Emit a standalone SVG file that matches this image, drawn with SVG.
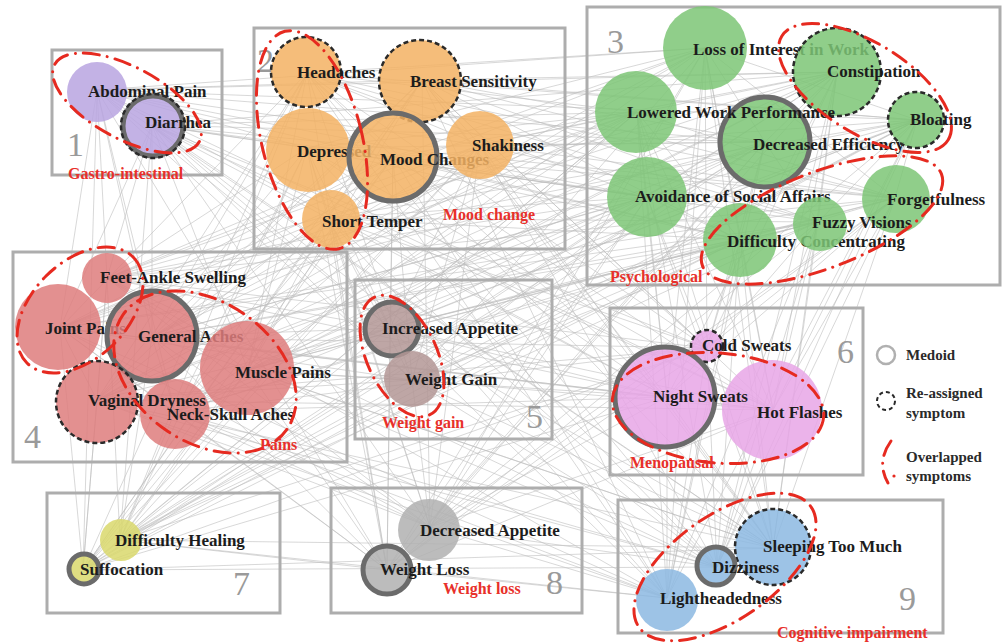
<svg xmlns="http://www.w3.org/2000/svg" width="1005" height="643" viewBox="0 0 1005 643">
<style>
.edge{fill:none;stroke:#bdbdbd;stroke-width:0.8;stroke-opacity:0.75;stroke-linejoin:round}
.box{fill:none;stroke:#adadad;stroke-width:3}
.num{font-family:"Liberation Serif",serif;font-size:34px;fill:#9a9a9a}
.lbl{font-family:"Liberation Serif",serif;font-weight:bold;font-size:17px;fill:#1c1c1c}
.grp{font-family:"Liberation Serif",serif;font-weight:bold;font-size:16px;fill:#e8302a}
.leg{font-family:"Liberation Serif",serif;font-weight:bold;font-size:15px;fill:#2a2a2a}
.nd{fill-opacity:0.85}
.c1{fill:#b9a4e0}.c2{fill:#f3b263}.c3{fill:#7cc576}.c4{fill:#de7c7c}.c5{fill:#b39695}
.c6{fill:#e8a6e6}.c7{fill:#d9d86c}.c8{fill:#b0b0b0}.c9{fill:#8cb8e2}
.med{fill:none;stroke:#6b6b6b;stroke-width:5}
.re{fill:none;stroke:#2a2a2a;stroke-width:2.5;stroke-dasharray:5 3}
.ov{fill:none;stroke:#e62a20;stroke-width:3;stroke-dasharray:16 8 0.1 8;stroke-linecap:round}
</style>
<rect width="1005" height="643" fill="#ffffff"/>
<g id="connectors">
<polygon class="edge" points="97,90 422,80 480,145 837,72 765,142 818,222 60,328 97,400 412,380 773,410 430,527 717,567 152,125 307,148 328,218 637,112 647,197 740,240 152,337 175,412 707,348 120,540 387,570 667,598 307,73 393,157 705,48 917,120 895,198 107,278 248,370 390,328 667,397 83,570 773,548"/>
<polygon class="edge" points="97,90 307,148 705,48 765,142 740,240 248,370 412,380 120,540 773,548 152,125 393,157 837,72 647,197 107,278 97,400 707,348 83,570 717,567 307,73 480,145 637,112 895,198 60,328 175,412 667,397 430,527 667,598 422,80 328,218 917,120 818,222 152,337 390,328 773,410 387,570"/>
<polygon class="edge" points="97,90 480,145 765,142 60,328 412,380 430,527 152,125 328,218 647,197 152,337 707,348 387,570 307,73 705,48 895,198 248,370 667,397 773,548 422,80 837,72 818,222 97,400 773,410 717,567 307,148 637,112 740,240 175,412 120,540 667,598 393,157 917,120 107,278 390,328 83,570"/>
<polygon class="edge" points="97,90 705,48 740,240 412,380 773,548 393,157 647,197 97,400 83,570 307,73 637,112 60,328 667,397 667,598 328,218 818,222 390,328 387,570 307,148 765,142 248,370 120,540 152,125 837,72 107,278 707,348 717,567 480,145 895,198 175,412 430,527 422,80 917,120 152,337 773,410"/>
<polygon class="edge" points="97,90 917,120 175,412 717,567 837,72 248,370 387,570 328,218 60,328 83,570 393,157 740,240 773,410 422,80 895,198 707,348 152,125 765,142 390,328 667,598 637,112 97,400 773,548 705,48 152,337 430,527 480,145 107,278 120,540 307,148 818,222 667,397 307,73 647,197 412,380"/>
<polygon class="edge" points="97,90 647,197 667,397 307,148 107,278 430,527 705,48 97,400 667,598 765,142 707,348 422,80 740,240 83,570 328,218 248,370 717,567 917,120 412,380 307,73 818,222 120,540 480,145 152,337 773,548 637,112 390,328 152,125 895,198 773,410 393,157 60,328 387,570 837,72 175,412"/>
<polygon class="edge" points="97,90 740,240 773,548 647,197 83,570 637,112 667,397 328,218 390,328 307,148 248,370 152,125 107,278 717,567 895,198 430,527 917,120 773,410 705,48 412,380 393,157 97,400 307,73 60,328 667,598 818,222 387,570 765,142 120,540 837,72 707,348 480,145 175,412 422,80 152,337"/>
<polygon class="edge" points="97,90 107,278 667,598 740,240 717,567 818,222 773,548 895,198 387,570 647,197 430,527 765,142 83,570 917,120 120,540 637,112 773,410 837,72 667,397 705,48 707,348 328,218 412,380 480,145 390,328 393,157 175,412 307,148 97,400 422,80 248,370 307,73 152,337 152,125 60,328"/>
<polygon class="edge" points="97,90 837,72 60,328 773,410 152,125 637,112 152,337 120,540 307,73 917,120 248,370 83,570 422,80 765,142 97,400 430,527 307,148 647,197 175,412 387,570 393,157 895,198 390,328 773,548 480,145 818,222 412,380 717,567 328,218 740,240 707,348 667,598 705,48 107,278 667,397"/>
<polygon class="edge" points="97,90 765,142 412,380 152,125 647,197 707,348 307,73 895,198 667,397 422,80 818,222 773,410 307,148 740,240 120,540 393,157 107,278 83,570 480,145 60,328 430,527 328,218 152,337 387,570 705,48 248,370 773,548 837,72 97,400 717,567 637,112 175,412 667,598 917,120 390,328"/>
</g>
<g id="clusters">
<rect class="box" x="52" y="50" width="170" height="125"/>
<rect class="box" x="254" y="28" width="311" height="221"/>
<rect class="box" x="587" y="7" width="413" height="278"/>
<rect class="box" x="13" y="252" width="334" height="210"/>
<rect class="box" x="355" y="280" width="197" height="159"/>
<rect class="box" x="610" y="308" width="253" height="167"/>
<rect class="box" x="47" y="493" width="233" height="120"/>
<rect class="box" x="331" y="488" width="251" height="125"/>
<rect class="box" x="618" y="500" width="325" height="133"/>
<text class="num" x="67" y="156">1</text>
<text class="num" x="257" y="72">2</text>
<text class="num" x="607" y="53">3</text>
<text class="num" x="24" y="448">4</text>
<text class="num" x="526" y="428">5</text>
<text class="num" x="837" y="363">6</text>
<text class="num" x="233" y="595">7</text>
<text class="num" x="546" y="594">8</text>
<text class="num" x="899" y="610">9</text>
</g>
<g id="n-abdominal-pain"><circle class="nd c1" cx="97" cy="92" r="30"/><text class="lbl" x="88" y="97">Abdominal Pain</text></g>
<g id="n-diarrhea"><circle class="nd c1" cx="153" cy="126" r="30"/><circle class="med" cx="153" cy="126" r="30"/><circle class="re" cx="153" cy="126" r="32"/><text class="lbl" x="145" y="128">Diarrhea</text></g>
<g id="n-headaches"><circle class="nd c2" cx="306" cy="72" r="35"/><circle class="re" cx="306" cy="72" r="35"/><text class="lbl" x="297" y="78">Headaches</text></g>
<g id="n-breast-sensitivity"><circle class="nd c2" cx="420" cy="81" r="41"/><circle class="re" cx="420" cy="81" r="41"/><text class="lbl" x="410" y="87">Breast Sensitivity</text></g>
<g id="n-depressed"><circle class="nd c2" cx="308" cy="150" r="42"/><text class="lbl" x="297" y="157">Depressed</text></g>
<g id="n-mood-changes"><circle class="nd c2" cx="393" cy="157" r="44"/><circle class="med" cx="393" cy="157" r="44"/><text class="lbl" x="380" y="165">Mood Changes</text></g>
<g id="n-shakiness"><circle class="nd c2" cx="480" cy="145" r="34"/><text class="lbl" x="472" y="151">Shakiness</text></g>
<g id="n-short-temper"><circle class="nd c2" cx="331" cy="219" r="29"/><text class="lbl" x="322" y="227">Short Temper</text></g>
<g id="n-loss-of-interest"><circle class="nd c3" cx="705" cy="48" r="42"/><text class="lbl" x="693" y="55">Loss of Interest in Work</text></g>
<g id="n-constipation"><circle class="nd c3" cx="837" cy="72" r="44"/><circle class="re" cx="837" cy="72" r="44"/><text class="lbl" x="827" y="77">Constipation</text></g>
<g id="n-decreased-efficiency"><circle class="nd c3" cx="765" cy="142" r="45"/><circle class="med" cx="765" cy="142" r="45"/><text class="lbl" x="753" y="150">Decreased Efficiency</text></g>
<g id="n-lowered-work"><circle class="nd c3" cx="636" cy="112" r="41"/><text class="lbl" x="627" y="118">Lowered Work Performance</text></g>
<g id="n-bloating"><circle class="nd c3" cx="916" cy="120" r="28"/><circle class="re" cx="916" cy="120" r="28"/><text class="lbl" x="910" y="125">Bloating</text></g>
<g id="n-avoidance"><circle class="nd c3" cx="647" cy="197" r="40"/><text class="lbl" x="635" y="202">Avoidance of Social Affairs</text></g>
<g id="n-forgetfulness"><circle class="nd c3" cx="896" cy="199" r="34"/><text class="lbl" x="887" y="205">Forgetfulness</text></g>
<g id="n-difficulty-concentrating"><circle class="nd c3" cx="740" cy="240" r="37"/><text class="lbl" x="727" y="247">Difficulty Concentrating</text></g>
<g id="n-fuzzy-visions"><circle class="nd c3" cx="820" cy="224" r="27"/><text class="lbl" x="812" y="228">Fuzzy Visions</text></g>
<g id="n-feet-ankle"><circle class="nd c4" cx="107" cy="278" r="25"/><text class="lbl" x="100" y="283">Feet-Ankle Swelling</text></g>
<g id="n-joint-pains"><circle class="nd c4" cx="58" cy="327" r="43"/><text class="lbl" x="45" y="334">Joint Pains</text></g>
<g id="n-general-aches"><circle class="nd c4" cx="152" cy="336" r="45"/><circle class="med" cx="152" cy="336" r="45"/><text class="lbl" x="138" y="342">General Aches</text></g>
<g id="n-muscle-pains"><circle class="nd c4" cx="247" cy="368" r="47"/><text class="lbl" x="235" y="378">Muscle Pains</text></g>
<g id="n-neck-skull"><circle class="nd c4" cx="175" cy="414" r="35"/><text class="lbl" x="167" y="420">Neck-Skull Aches</text></g>
<g id="n-vaginal-dryness"><circle class="nd c4" cx="97" cy="402" r="41"/><circle class="re" cx="97" cy="402" r="41"/><text class="lbl" x="88" y="406">Vaginal Dryness</text></g>
<g id="n-increased-appetite"><circle class="nd c5" cx="392" cy="329" r="27"/><circle class="med" cx="392" cy="329" r="27" stroke="#6b7f80"/><text class="lbl" x="382" y="334">Increased Appetite</text></g>
<g id="n-weight-gain"><circle class="nd c5" cx="412" cy="379" r="28"/><text class="lbl" x="405" y="385">Weight Gain</text></g>
<g id="n-cold-sweats"><circle class="nd c6" cx="707" cy="346" r="16"/><circle class="re" cx="707" cy="346" r="16"/><text class="lbl" x="702" y="351">Cold Sweats</text></g>
<g id="n-hot-flashes"><circle class="nd c6" cx="772" cy="410" r="50"/><text class="lbl" x="757" y="418">Hot Flashes</text></g>
<g id="n-night-sweats"><circle class="nd c6" cx="665" cy="397" r="50"/><circle class="med" cx="665" cy="397" r="50"/><text class="lbl" x="653" y="402">Night Sweats</text></g>
<g id="n-difficulty-healing"><circle class="nd c7" cx="121" cy="540" r="21"/><text class="lbl" x="115" y="546">Difficulty Healing</text></g>
<g id="n-suffocation"><circle class="nd c7" cx="84" cy="569" r="15"/><circle class="med" cx="84" cy="569" r="15" stroke="#555"/><text class="lbl" x="80" y="575">Suffocation</text></g>
<g id="n-decreased-appetite"><circle class="nd c8" cx="429" cy="530" r="31"/><text class="lbl" x="420" y="536">Decreased Appetite</text></g>
<g id="n-weight-loss"><circle class="nd c8" cx="387" cy="570" r="25"/><circle class="med" cx="387" cy="570" r="24"/><text class="lbl" x="380" y="575">Weight Loss</text></g>
<g id="n-sleeping-too-much"><circle class="nd c9" cx="773" cy="547" r="38"/><circle class="re" cx="773" cy="547" r="38"/><text class="lbl" x="763" y="552">Sleeping Too Much</text></g>
<g id="n-dizziness"><circle class="nd c9" cx="716" cy="566" r="19"/><circle class="med" cx="716" cy="566" r="19"/><text class="lbl" x="712" y="573">Dizziness</text></g>
<g id="n-lightheadedness"><circle class="nd c9" cx="667" cy="600" r="31"/><text class="lbl" x="660" y="604">Lightheadedness</text></g>
<g id="overlaps">
<ellipse class="ov" cx="127" cy="103" rx="82" ry="36" transform="rotate(28 127 103)"/>
<ellipse class="ov" cx="312" cy="140" rx="50" ry="112" transform="rotate(-14 312 140)"/>
<ellipse class="ov" cx="865" cy="88" rx="98" ry="45" transform="rotate(32 865 88)"/>
<ellipse class="ov" cx="822" cy="220" rx="128" ry="48" transform="rotate(-21 822 220)"/>
<ellipse class="ov" cx="80" cy="310" rx="75" ry="48" transform="rotate(-45 80 310)"/>
<ellipse class="ov" cx="205" cy="372" rx="100" ry="70" transform="rotate(35 205 372)"/>
<ellipse class="ov" cx="402" cy="356" rx="35" ry="65" transform="rotate(-25 402 356)"/>
<ellipse class="ov" cx="718" cy="408" rx="106" ry="55" transform="rotate(5 718 408)"/>
<ellipse class="ov" cx="725" cy="567" rx="105" ry="52" transform="rotate(-35 725 567)"/>
</g>
<g id="group-labels">
<text class="grp" x="68" y="179">Gastro-intestinal</text>
<text class="grp" x="443" y="220">Mood change</text>
<text class="grp" x="610" y="282">Psychological</text>
<text class="grp" x="260" y="450">Pains</text>
<text class="grp" x="382" y="428">Weight gain</text>
<text class="grp" x="630" y="468">Menopausal</text>
<text class="grp" x="443" y="594">Weight loss</text>
<text class="grp" x="777" y="638">Cognitive impairment</text>
</g>
<g id="legend">
<circle cx="886" cy="355" r="9" fill="none" stroke="#b0b0b0" stroke-width="2.5"/>
<text class="leg" x="906" y="360">Medoid</text>
<circle cx="886" cy="401" r="9" fill="none" stroke="#2a2a2a" stroke-width="2" stroke-dasharray="4 3"/>
<text class="leg" x="906" y="398">Re-assigned</text>
<text class="leg" x="906" y="418">symptom</text>
<path class="ov" d="M891 441 Q876 462 888 483" stroke-dasharray="12 6 0.1 6"/>
<circle cx="894" cy="476" r="1.6" fill="#e62a20"/>
<text class="leg" x="906" y="462">Overlapped</text>
<text class="leg" x="906" y="481">symptoms</text>
</g>
</svg>
